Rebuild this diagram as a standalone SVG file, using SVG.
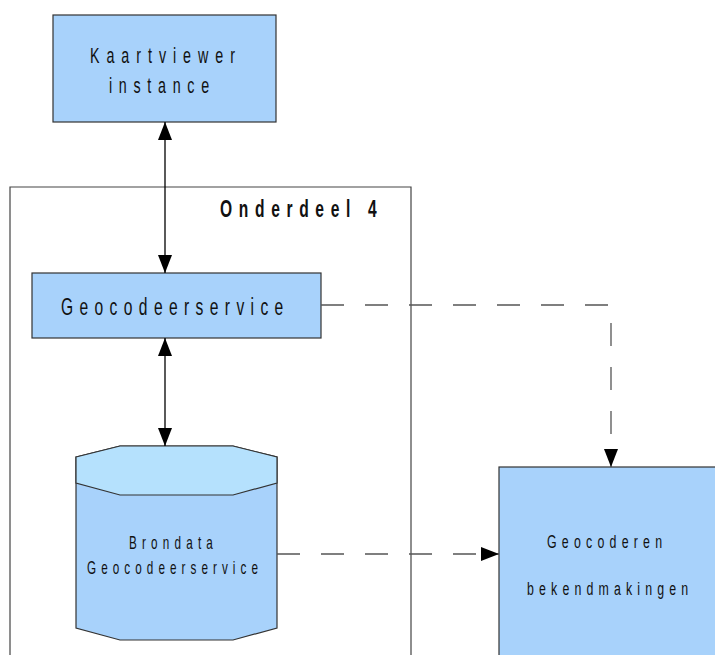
<svg xmlns="http://www.w3.org/2000/svg" width="715" height="655" viewBox="0 0 715 655">
<style>
.box{fill:#a8d2fb;stroke:#333;stroke-width:1.2}
.top{fill:#b5e1fd;stroke:#333;stroke-width:1.2}
.frame{fill:none;stroke:#444;stroke-width:1.2}
.t{font-family:"Liberation Sans",Arial,sans-serif;fill:#111}
.solid{stroke:#000;stroke-width:1.3;fill:none}
.dash{stroke:#555;stroke-width:1.3;fill:none;stroke-dasharray:23 21}
</style>
<defs>
<marker id="ah" viewBox="0 0 18 14" refX="18" refY="7" markerWidth="18" markerHeight="14" markerUnits="userSpaceOnUse" orient="auto-start-reverse">
<path d="M0,0 L18,7 L0,14 Z" fill="#000"/>
</marker>
</defs>
<rect width="715" height="655" fill="#fff"/>
<g id="onderdeel4">
<path class="frame" d="M10,660 L10,187 L411,187 L411,660"/>
<text class="t" transform="translate(220,217) scale(0.65,1)" font-size="24" font-weight="bold" textLength="241" lengthAdjust="spacing">Onderdeel 4</text>
</g>
<g id="kaartviewer">
<rect class="box" x="53" y="15" width="223" height="107"/>
<text class="t" transform="translate(90,63) scale(0.65,1)" font-size="22" textLength="223" lengthAdjust="spacing">Kaartviewer</text>
<text class="t" transform="translate(109,93) scale(0.65,1)" font-size="22" textLength="154" lengthAdjust="spacing">instance</text>
</g>
<g id="geocodeerservice">
<rect class="box" x="32" y="273" width="289" height="65"/>
<text class="t" transform="translate(61,315) scale(0.65,1)" font-size="24" textLength="342" lengthAdjust="spacing">Geocodeerservice</text>
</g>
<g id="brondata">
<path class="box" d="M76,457 L120,446 L233,446 L277,457 L277,628 L233,640 L120,640 L76,628 Z"/>
<path class="top" d="M76,457 L120,446 L233,446 L277,457 L277,483 L233,495 L120,495 L76,483 Z"/>
<text class="t" transform="translate(129,549) scale(0.65,1)" font-size="18" textLength="129" lengthAdjust="spacing">Brondata</text>
<text class="t" transform="translate(87,574) scale(0.65,1)" font-size="18" textLength="263" lengthAdjust="spacing">Geocodeerservice</text>
</g>
<g id="geocoderen">
<rect class="box" x="499" y="467" width="230" height="200"/>
<text class="t" transform="translate(547,548) scale(0.65,1)" font-size="19" textLength="177" lengthAdjust="spacing">Geocoderen</text>
<text class="t" transform="translate(527,595) scale(0.65,1)" font-size="19" textLength="248" lengthAdjust="spacing">bekendmakingen</text>
</g>
<g id="connectors">
<line class="solid" x1="165" y1="122" x2="165" y2="273" marker-start="url(#ah)" marker-end="url(#ah)"/>
<line class="solid" x1="165" y1="338" x2="165" y2="446" marker-start="url(#ah)" marker-end="url(#ah)"/>
<path class="dash" d="M321,305 L611,305 L611,467" marker-end="url(#ah)"/>
<line class="dash" x1="277" y1="554" x2="499" y2="554" marker-end="url(#ah)"/>
</g>
</svg>
